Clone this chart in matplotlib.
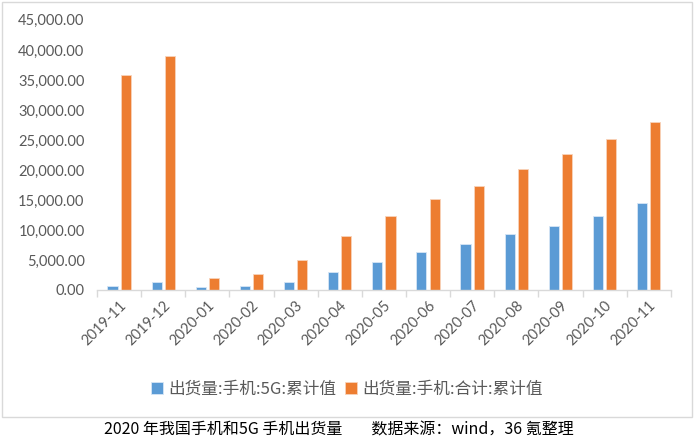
import matplotlib.pyplot as plt
import numpy as np
from matplotlib.patches import Rectangle

plt.rcParams['font.family'] = ['Lato', 'Noto Sans CJK SC', 'DejaVu Sans']

# data (units: 万部)
months = ['2019-11', '2019-12', '2020-01', '2020-02', '2020-03', '2020-04', '2020-05',
          '2020-06', '2020-07', '2020-08', '2020-09', '2020-10', '2020-11']
ship_5g = [730, 1300, 560, 730, 1300, 3040, 4600, 6350, 7700, 9270, 10700, 12360, 14450]
ship_total = [35900, 38960, 1970, 2700, 4940, 8990, 12360, 15200, 17400, 20200, 22600, 25200, 28000]
series_names = ['出货量:手机:5G:累计值', '出货量:手机:合计:累计值']
caption = '2020 年我国手机和5G 手机出货量        数据来源：wind，36 氪整理'

blue = '#5B9BD5'
orange = '#ED7D31'
grey = '#595959'

fig = plt.figure(figsize=(6.98, 4.42), dpi=100)
ax = fig.add_axes([0.139, 0.344, 0.822, 0.611])

x = np.arange(len(months))
w = 0.23
ax.bar(x - 0.15, ship_5g, w, color=blue, edgecolor='#D6E6F5', linewidth=0.6, label=series_names[0])
ax.bar(x + 0.15, ship_total, w, color=orange, edgecolor='#F8D3BA', linewidth=0.6, label=series_names[1])

ax.set_xlim(-0.5, len(months) - 0.5)
ax.set_ylim(0, 45000)
ax.set_yticks(np.arange(0, 45001, 5000))
ax.set_yticklabels(['{:,.2f}'.format(v) for v in np.arange(0, 45001, 5000)])
ax.tick_params(axis='y', length=0, pad=9, labelsize=10.5, labelcolor=grey)

# tick marks between categories, labels under the centres
ax.set_xticks(np.arange(-0.5, len(months), 1.0))
ax.set_xticklabels([])
ax.tick_params(axis='x', which='major', length=5, color='#D9D9D9', width=1)
ax.set_xticks(x, minor=True)
ax.set_xticklabels(months, minor=True, rotation=45, ha='right', rotation_mode='anchor')
ax.tick_params(axis='x', which='minor', length=0, pad=6, labelsize=10.5, labelcolor=grey)

for s in ['top', 'right', 'left']:
    ax.spines[s].set_visible(False)
ax.spines['bottom'].set_color('#D9D9D9')
ax.spines['bottom'].set_linewidth(1)

leg = fig.legend(loc='center', bbox_to_anchor=(0.497, 0.12), ncol=2, frameon=False,
                 handlelength=0.75, handleheight=0.75, handletextpad=0.3, columnspacing=0.5,
                 prop={'family': ['Noto Sans CJK SC', 'DejaVu Sans'], 'size': 12})
for t in leg.get_texts():
    t.set_color(grey)

# outer chart frame
fig.patches.append(Rectangle((0.003, 1 - 417 / 442), 0.988, 415 / 442, transform=fig.transFigure,
                             fill=False, edgecolor='#D9D9D9', linewidth=1))

fig.text(0.485, 0.027, caption, ha='center', va='center', fontsize=11.5, color='black',
         family=['Noto Sans CJK SC', 'DejaVu Sans'])

fig.savefig('out.png', dpi=100)
